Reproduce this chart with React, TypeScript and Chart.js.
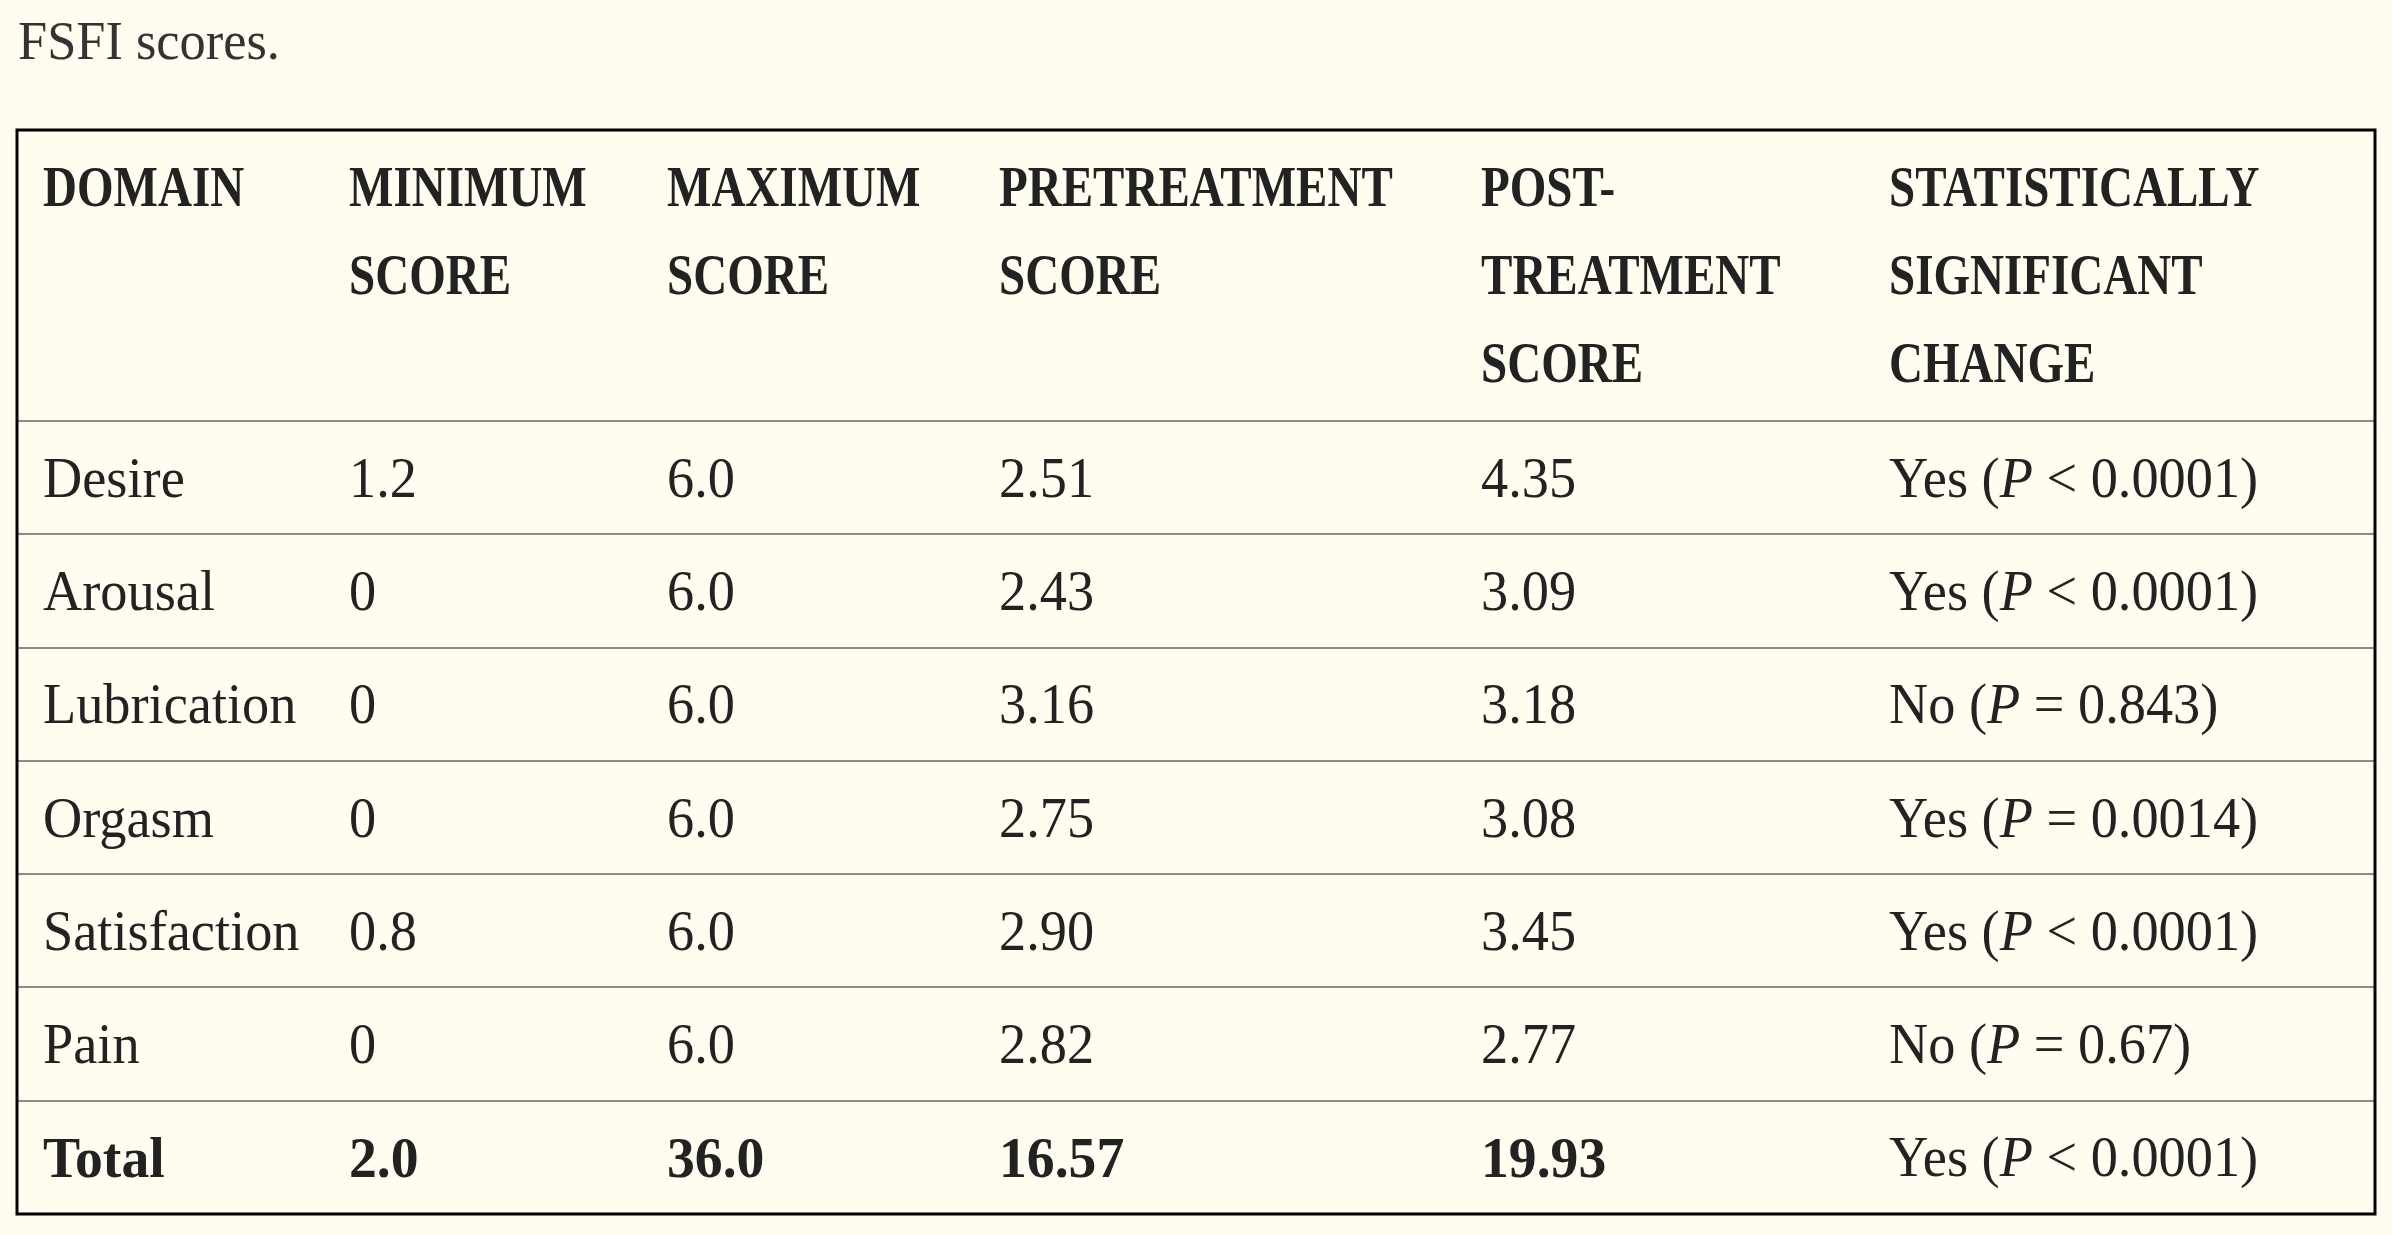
import React, { useEffect, useRef } from "react";
import { Chart, registerables } from "chart.js";

Chart.register(...registerables);

// ---- data ----
const TITLE = "FSFI scores.";
const HEADERS: string[][] = [
  ["DOMAIN"],
  ["MINIMUM", "SCORE"],
  ["MAXIMUM", "SCORE"],
  ["PRETREATMENT", "SCORE"],
  ["POST-", "TREATMENT", "SCORE"],
  ["STATISTICALLY", "SIGNIFICANT", "CHANGE"],
];
const DOMAINS = ["Desire", "Arousal", "Lubrication", "Orgasm", "Satisfaction", "Pain", "Total"];
const MIN_SCORES = ["1.2", "0", "0", "0", "0.8", "0", "2.0"];
const MAX_SCORES = ["6.0", "6.0", "6.0", "6.0", "6.0", "6.0", "36.0"];
const PRE_SCORES = ["2.51", "2.43", "3.16", "2.75", "2.90", "2.82", "16.57"];
const POST_SCORES = ["4.35", "3.09", "3.18", "3.08", "3.45", "2.77", "19.93"];
const SIGNIFICANT = ["Yes", "Yes", "No", "Yes", "Yes", "No", "Yes"];
const P_OPERATORS = ["<", "<", "=", "=", "<", "=", "<"];
const P_VALUES = ["0.0001", "0.0001", "0.843", "0.0014", "0.0001", "0.67", "0.0001"];
const BOLD_ROWS = ["Total"];

// ---- layout / style ----
const W = 2392;
const H = 1235;
const BG = "#fffdf0";
const TEXT = "#222222";
const FONT = '"Liberation Serif", "Times New Roman", serif';
const COL_X = [43, 349, 667, 999, 1481, 1889];
const BOX = { left: 17, right: 2375, top: 130, bottom: 1214 };
const HEADER_BASELINES = [206, 294, 382];

function drawScaled(ctx: CanvasRenderingContext2D, text: string, x: number, y: number, sx: number) {
  ctx.save();
  ctx.translate(x, y);
  ctx.scale(sx, 1);
  ctx.fillText(text, 0, 0);
  ctx.restore();
  return ctx.measureText(text).width * sx;
}

const tablePlugin = {
  id: "tablePlugin",
  afterDraw(chart: any) {
    const ctx: CanvasRenderingContext2D = chart.ctx;
    const yScale = chart.scales.y;
    ctx.save();
    ctx.textBaseline = "alphabetic";
    ctx.textAlign = "left";

    // title
    ctx.fillStyle = "#333333";
    ctx.font = `54px ${FONT}`;
    drawScaled(ctx, TITLE, 18, 59, 0.97);

    // header
    ctx.fillStyle = TEXT;
    ctx.font = `bold 56px ${FONT}`;
    HEADERS.forEach((lines, c) => {
      lines.forEach((line, l) => {
        drawScaled(ctx, line, COL_X[c], HEADER_BASELINES[l], 0.84);
      });
    });

    // body rows
    DOMAINS.forEach((dom, i) => {
      const yc = yScale.getPixelForValue(i);
      const base = yc + 19;
      const bold = BOLD_ROWS.includes(dom);
      ctx.fillStyle = TEXT;
      const cells = [dom, MIN_SCORES[i], MAX_SCORES[i], PRE_SCORES[i], POST_SCORES[i]];
      cells.forEach((t, c) => {
        if (bold) {
          ctx.font = `bold 58px ${FONT}`;
          drawScaled(ctx, t, COL_X[c], base + 1, 0.96);
        } else {
          ctx.font = `56px ${FONT}`;
          drawScaled(ctx, t, COL_X[c], base, 0.97);
        }
      });
      // significance column (regular with italic P)
      let x = COL_X[5];
      const parts: [string, string][] = [
        [`${SIGNIFICANT[i]} (`, `56px ${FONT}`],
        ["P", `italic 56px ${FONT}`],
        [` ${P_OPERATORS[i]} ${P_VALUES[i]})`, `56px ${FONT}`],
      ];
      parts.forEach(([t, font]) => {
        ctx.font = font;
        x += drawScaled(ctx, t, x, base, 0.97);
      });
    });

    // outer border
    ctx.strokeStyle = "#000000";
    ctx.lineWidth = 3;
    ctx.strokeRect(BOX.left, BOX.top, BOX.right - BOX.left, BOX.bottom - BOX.top);
    ctx.restore();
  },
};

export default function App() {
  const ref = useRef<HTMLCanvasElement | null>(null);
  useEffect(() => {
    document.body.style.margin = "0";
    document.body.style.background = BG;
    if (!ref.current) return;
    const chart = new Chart(ref.current, {
      type: "scatter",
      data: { labels: DOMAINS, datasets: [{ data: [] }] },
      options: {
        animation: false,
        responsive: false,
        devicePixelRatio: 1,
        events: [],
        layout: {
          padding: { left: BOX.left, right: W - BOX.right, top: 421, bottom: H - BOX.bottom },
        },
        plugins: { legend: { display: false }, tooltip: { enabled: false }, title: { display: false } },
        scales: {
          x: { type: "linear", display: false, min: 0, max: 1 },
          y: {
            type: "category",
            labels: DOMAINS,
            offset: true,
            display: true,
            ticks: { display: false },
            border: { display: false },
            grid: { offset: true, color: "#8c8c8c", lineWidth: 2, drawTicks: false },
            afterFit: (scale: any) => {
              scale.width = 0;
            },
          },
        },
      },
      plugins: [tablePlugin],
    } as any);
    return () => chart.destroy();
  }, []);
  return (
    <div style={{ position: "fixed", left: 0, top: 0, width: W, height: H, background: BG, overflow: "hidden" }}>
      <canvas ref={ref} width={W} height={H} style={{ width: W, height: H, display: "block" }} />
    </div>
  );
}
